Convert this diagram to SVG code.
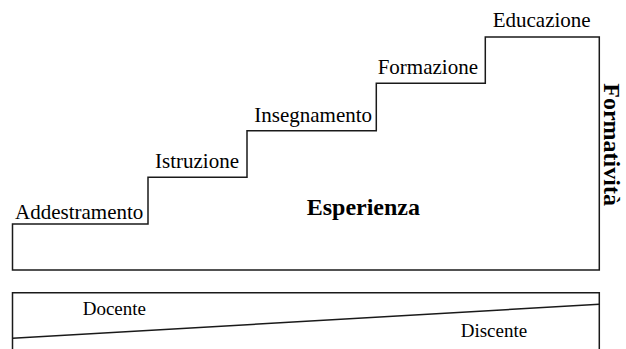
<svg xmlns="http://www.w3.org/2000/svg" width="626" height="349" viewBox="0 0 626 349">
<style>
.ln{fill:none;stroke:#1a1a1a;stroke-width:1.5}
.t{font-family:"Liberation Serif","Times New Roman",serif;fill:#000}
.s{font-size:21px}
.b{font-size:24px;font-weight:bold}
.d{font-size:19px}
</style>
<rect width="626" height="349" fill="#fff"/>
<g id="stairs">
<path class="ln" d="M12.5,270 V224 H148 V177.3 H247 V130.7 H376.3 V83.3 H485.3 V37 H599.3 V270 Z"/>
</g>
<g id="addestramento"><text class="t s" x="15" y="218.5">Addestramento</text></g>
<g id="istruzione"><text class="t s" x="155" y="168.3">Istruzione</text></g>
<g id="insegnamento"><text class="t s" x="254.3" y="121.7">Insegnamento</text></g>
<g id="formazione"><text class="t s" x="377.7" y="74">Formazione</text></g>
<g id="educazione"><text class="t s" x="492.7" y="27.3">Educazione</text></g>
<g id="esperienza"><text class="t b" x="306.7" y="215">Esperienza</text></g>
<g id="formativita"><text class="t b" transform="translate(604,83.3) rotate(90)">Formatività</text></g>
<g id="ruoli">
<path class="ln" d="M12.5,349 V292.7 H599.3 V349"/>
<line class="ln" x1="12.5" y1="338.3" x2="599.3" y2="304.3"/>
</g>
<g id="docente"><text class="t d" x="82.7" y="315">Docente</text></g>
<g id="discente"><text class="t d" x="460.7" y="336.7">Discente</text></g>
</svg>
